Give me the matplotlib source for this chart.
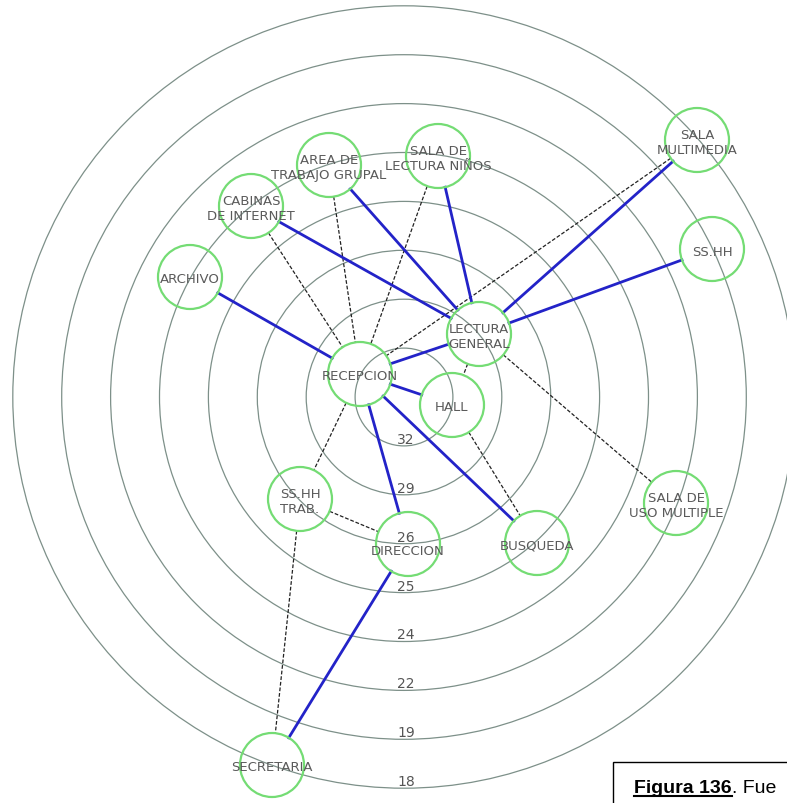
import numpy as np
import matplotlib
matplotlib.use("Agg")
from matplotlib import pyplot as plt
from matplotlib.patches import Circle, Rectangle

# ring values, innermost to outermost
ring_labels = ["32", "29", "26", "25", "24", "22", "19", "18"]

# nodes: name -> (x, y) in picture pixels
nodes = {
    "SALA\nMULTIMEDIA": (697, 141),
    "SS.HH": (712, 250),
    "SALA DE\nLECTURA NIÑOS": (438, 157),
    "AREA DE\nTRABAJO GRUPAL": (329, 166),
    "CABINAS\nDE INTERNET": (251, 207),
    "ARCHIVO": (190, 278),
    "LECTURA\nGENERAL": (479, 335),
    "RECEPCION": (360, 375),
    "HALL": (452, 406),
    "SS.HH\nTRAB.": (300, 500),
    "DIRECCION": (408, 545),
    "BUSQUEDA": (537, 544),
    "SALA DE\nUSO MULTIPLE": (676, 504),
    "SECRETARIA": (272, 766),
}

strong = [
    ("ARCHIVO", "RECEPCION"),
    ("CABINAS\nDE INTERNET", "LECTURA\nGENERAL"),
    ("AREA DE\nTRABAJO GRUPAL", "LECTURA\nGENERAL"),
    ("SALA DE\nLECTURA NIÑOS", "LECTURA\nGENERAL"),
    ("SALA\nMULTIMEDIA", "LECTURA\nGENERAL"),
    ("SS.HH", "LECTURA\nGENERAL"),
    ("LECTURA\nGENERAL", "RECEPCION"),
    ("RECEPCION", "HALL"),
    ("RECEPCION", "DIRECCION"),
    ("RECEPCION", "BUSQUEDA"),
    ("DIRECCION", "SECRETARIA"),
]

weak = [
    ("CABINAS\nDE INTERNET", "RECEPCION"),
    ("AREA DE\nTRABAJO GRUPAL", "RECEPCION"),
    ("SALA DE\nLECTURA NIÑOS", "RECEPCION"),
    ("SALA\nMULTIMEDIA", "RECEPCION"),
    ("LECTURA\nGENERAL", "HALL"),
    ("LECTURA\nGENERAL", "SALA DE\nUSO MULTIPLE"),
    ("HALL", "BUSQUEDA"),
    ("RECEPCION", "SS.HH\nTRAB."),
    ("SS.HH\nTRAB.", "DIRECCION"),
    ("SS.HH\nTRAB.", "SECRETARIA"),
]

W, H = 787, 804
center = (404, 398)
ring_step = 48.9
node_r = 32

fig = plt.figure(figsize=(W / 100, H / 100), dpi=100)
ax = fig.add_axes([0, 0, 1, 1])
ax.set_xlim(0, W)
ax.set_ylim(H, 0)
ax.set_aspect("equal")
ax.axis("off")

ring_color = "#7d9089"
for i, lab in enumerate(ring_labels):
    r = ring_step * (i + 1)
    ax.add_patch(Circle(center, r, fill=False, ec=ring_color, lw=0.9, zorder=1))
    ax.text(center[0] + 2, center[1] + r - 7, lab, ha="center", va="center",
            fontsize=10, color="#555555", zorder=5)


def clipped(a, b):
    (x1, y1), (x2, y2) = nodes[a], nodes[b]
    d = np.hypot(x2 - x1, y2 - y1)
    ux, uy = (x2 - x1) / d, (y2 - y1) / d
    return ([x1 + ux * node_r, x2 - ux * node_r],
            [y1 + uy * node_r, y2 - uy * node_r])


for a, b in weak:
    xs, ys = clipped(a, b)
    ax.plot(xs, ys, color="#222222", lw=0.9, ls=(0, (3, 1.5)), zorder=2)

for a, b in strong:
    xs, ys = clipped(a, b)
    ax.plot(xs, ys, color="#2323c8", lw=2.0, zorder=3)

for name, (x, y) in nodes.items():
    ax.add_patch(Circle((x, y), node_r, fill=False, ec="#74dc74", lw=1.6, zorder=4))
    dy = 7 if name == "DIRECCION" else 2
    ax.text(x, y + dy, name, ha="center", va="center", fontsize=9.5,
            color="#5a5a5a", linespacing=1.25, zorder=5)

# caption box (cut by the page edge)
ax.add_patch(Rectangle((613, 763), 200, 60, fill=True, fc="white", ec="black",
                       lw=1.0, zorder=6, clip_on=False))
cap = ax.text(634, 793, "Figura 136", fontsize=14, fontweight="bold",
              family="Liberation Sans", va="baseline", ha="left", zorder=7)
fig.canvas.draw()
bb = cap.get_window_extent()
inv = ax.transData.inverted()
(x0, _), (x1, _) = inv.transform([[bb.x0, bb.y0], [bb.x1, bb.y1]])
ax.plot([x0, x1], [796.5, 796.5], color="black", lw=1.5, zorder=7)
ax.text(x1, 793, ". Fue", fontsize=14, family="Liberation Sans",
        va="baseline", ha="left", zorder=7)

fig.savefig("out.png", dpi=100)
